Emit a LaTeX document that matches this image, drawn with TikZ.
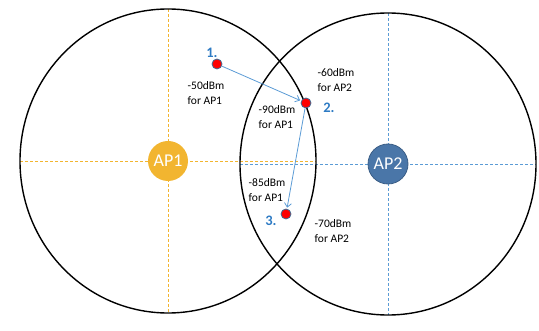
\documentclass[tikz,border=0pt]{standalone}
\usepackage{fontspec}
\setmainfont{Carlito}
\usetikzlibrary{arrows.meta}
\definecolor{apyellow}{HTML}{F2B530}
\definecolor{apblue}{HTML}{4A76A8}
\definecolor{lineblue}{HTML}{5B9BD5}
\definecolor{numblue}{HTML}{2E7BC4}
\begin{document}
\begin{tikzpicture}[x=1pt,y=-1pt,
    ap/.style={circle,minimum size=40pt,inner sep=0pt,text=white,font=\fontsize{18}{18}\selectfont},
    dot/.style={circle,fill=red,draw=lineblue!70!black,line width=0.8pt,minimum size=10pt,inner sep=0pt},
    lbl/.style={align=left,inner sep=0pt,font=\fontsize{11.5}{15}\selectfont},
    num/.style={text=numblue,inner sep=0pt,font=\bfseries\fontsize{14.5}{14.5}\selectfont},
    axis/.style={dashed,dash pattern=on 3pt off 2pt,line width=0.9pt},
    move/.style={-{Straight Barb[length=4pt,width=7pt]},lineblue,line width=0.8pt,shorten >=1pt}]
      \useasboundingbox (0,0) rectangle (539,331);
      % coverage areas
      \draw[apyellow,axis] (20,161) -- (316,161);
      \draw[apyellow,axis] (168,9) -- (168,313);
      \draw[lineblue,axis] (240,164) -- (536,164);
      \draw[lineblue,axis] (388,13) -- (388,315);
      \draw[line width=1.4pt] (168,161) ellipse [x radius=148pt, y radius=152pt];
      \draw[line width=1.4pt] (388,164) ellipse [x radius=148pt, y radius=151pt];
      % access points
      \node[ap,fill=apyellow] (ap1) at (168,161) {AP1};
      \node[ap,fill=apblue,draw=apblue!80!black,line width=0.8pt] (ap2) at (388,164) {AP2};
      % client positions
      \node[dot] (p1) at (217,64) {};
      \node[dot] (p2) at (306,103) {};
      \node[dot] (p3) at (286,214) {};
      \node[num] (n1) at (212,53) {1.};
      \node[num] (n2) at (329,108) {2.};
      \node[num] (n3) at (271,221) {3.};
      \draw[move] (p1) -- (p2);
      \draw[move] (p2) -- (p3);
      % signal levels
      \node[lbl] (s1) at (206,93) {-50dBm\\for AP1};
      \node[lbl] (s2) at (336,80) {-60dBm\\for AP2};
      \node[lbl] (s3) at (277,117) {-90dBm\\for AP1};
      \node[lbl] (s4) at (267,190) {-85dBm\\for AP1};
      \node[lbl] (s5) at (333,231) {-70dBm\\for AP2};
\end{tikzpicture}
\end{document}
